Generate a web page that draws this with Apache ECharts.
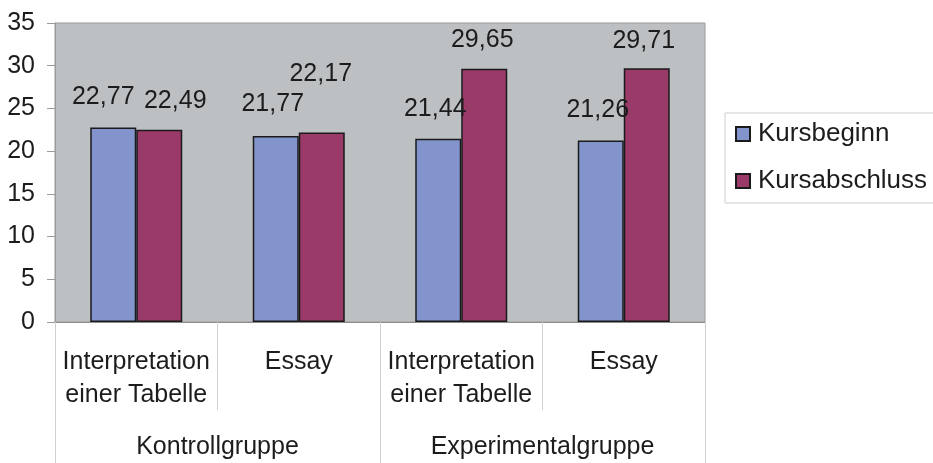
<!DOCTYPE html>
<html>
<head>
<meta charset="utf-8">
<script src="https://cdn.jsdelivr.net/npm/echarts@6/dist/echarts.min.js"></script>
<style>
  html, body { margin: 0; padding: 0; background: #ffffff; }
  #chart { width: 933px; height: 463px; }
</style>
</head>
<body>
<div id="chart"></div>
<script>
// Test categories (inner axis) and their groups (outer axis)
var categories = ['Interpretation\neiner Tabelle', 'Essay', 'Interpretation\neiner Tabelle', 'Essay'];
var groups = ['Kontrollgruppe', 'Experimentalgruppe'];
var seriesNames = ['Kursbeginn', 'Kursabschluss'];
var kursbeginn = [22.77, 21.77, 21.44, 21.26];
var kursabschluss = [22.49, 22.17, 29.65, 29.71];
var yTicks = { min: 0, max: 35, interval: 5 };

// Hand-placed label shifts [dx, dy] per bar
var beginnLabelShift = [[-10, -18], [-3, -19], [-3, -17], [-3, -18]];
var abschlussLabelShift = [[16, -16], [-1, -46], [-2, -16], [-3, -15]];

var FONT = 'Liberation Sans, Arial, sans-serif';
var TEXT = '#1c1c1c';
var FS = 25;

function fmt(v) { return v.toFixed(2).replace('.', ','); }

function barData(values, shifts) {
  return values.map(function (v, i) {
    return { value: v, label: { offset: shifts[i] } };
  });
}

var chart = echarts.init(document.getElementById('chart'), null, { renderer: 'canvas' });

var labelStyle = {
  show: true,
  position: 'top',
  distance: 0,
  fontFamily: FONT,
  fontSize: FS,
  color: TEXT,
  formatter: function (p) { return fmt(p.value); }
};

chart.setOption({
  animation: false,
  backgroundColor: '#ffffff',
  textStyle: { fontFamily: FONT },
  grid: {
    left: 55, right: 228, top: 23, bottom: 141,
    show: true,
    backgroundColor: '#bcc0c3',
    borderColor: '#9a9a9a',
    borderWidth: 1
  },
  legend: {
    orient: 'vertical',
    left: 725, top: 113,
    padding: [8, 20, 9, 10],
    itemGap: 21,
    itemWidth: 14, itemHeight: 14,
    borderColor: '#cfcfcf', borderWidth: 1,
    icon: 'rect',
    textStyle: { fontFamily: FONT, fontSize: 26, color: TEXT, padding: [0, 0, 0, 3] },
    data: seriesNames
  },
  xAxis: [
    {
      type: 'category',
      data: categories,
      position: 'bottom',
      axisLine: { show: true, lineStyle: { color: '#8c8c8c', width: 1 } },
      axisTick: { show: true, length: 88, alignWithLabel: false, lineStyle: { color: '#d0d0d0' } },
      axisLabel: {
        interval: 0, margin: 24,
        fontFamily: FONT, fontSize: FS, color: TEXT, lineHeight: 33
      }
    },
    {
      type: 'category',
      data: groups,
      position: 'bottom',
      axisLine: { show: false },
      axisTick: { show: true, length: 141, alignWithLabel: false, lineStyle: { color: '#d0d0d0' } },
      axisLabel: {
        interval: 0, margin: 113,
        fontFamily: FONT, fontSize: FS, color: TEXT
      }
    }
  ],
  yAxis: {
    type: 'value',
    min: yTicks.min, max: yTicks.max, interval: yTicks.interval,
    axisLine: { show: true, lineStyle: { color: '#9a9a9a' } },
    axisTick: { show: true, length: 8, lineStyle: { color: '#9a9a9a' } },
    splitLine: { show: false },
    axisLabel: { margin: 20, fontFamily: FONT, fontSize: FS, color: TEXT }
  },
  series: [
    {
      name: seriesNames[0],
      type: 'bar',
      xAxisIndex: 0,
      barWidth: 46,
      barGap: '0%',
      itemStyle: { color: '#8394cc', borderColor: '#1a1a1a', borderWidth: 1.5 },
      label: labelStyle,
      data: barData(kursbeginn, beginnLabelShift)
    },
    {
      name: seriesNames[1],
      type: 'bar',
      xAxisIndex: 0,
      barWidth: 46,
      barGap: '0%',
      itemStyle: { color: '#9a3a68', borderColor: '#1a1a1a', borderWidth: 1.5 },
      label: labelStyle,
      data: barData(kursabschluss, abschlussLabelShift)
    }
  ]
});
</script>
</body>
</html>
